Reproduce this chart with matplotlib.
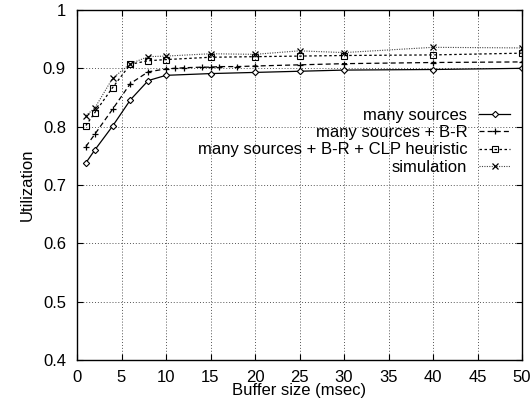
import matplotlib
matplotlib.use("Agg")
import matplotlib.pyplot as plt

plt.rcParams['font.family'] = ['Liberation Sans', 'DejaVu Sans']

# Buffer sizes (msec) and utilization for each model
buf_main = [1, 2, 4, 6, 8, 10, 15, 20, 25, 30, 40, 50]
util_many = [0.738, 0.760, 0.801, 0.846, 0.879, 0.888, 0.891, 0.893, 0.895, 0.897, 0.898, 0.900]

buf_br = [1, 2, 4, 6, 8, 10, 11, 12, 14, 15, 16, 18, 20, 25, 30, 40, 50]
util_br = [0.766, 0.787, 0.830, 0.874, 0.894, 0.899, 0.900, 0.901, 0.902, 0.902,
           0.903, 0.903, 0.904, 0.906, 0.908, 0.910, 0.911]

util_clp = [0.802, 0.824, 0.867, 0.907, 0.913, 0.915, 0.919, 0.920, 0.921, 0.922, 0.923, 0.926]
util_sim = [0.819, 0.832, 0.883, 0.908, 0.920, 0.921, 0.925, 0.924, 0.930, 0.927, 0.936, 0.935]

labels = ["many sources", "many sources + B-R",
          "many sources + B-R + CLP heuristic", "simulation"]

x_ticks = list(range(0, 51, 5))
y_ticks = [0.4, 0.5, 0.6, 0.7, 0.8, 0.9, 1.0]
y_tick_labels = ["0.4", "0.5", "0.6", "0.7", "0.8", "0.9", "1"]

FS = 12

fig = plt.figure(figsize=(5.31, 4.08), dpi=100)
ax = fig.add_axes([77 / 531, 48 / 408, 445 / 531, 350 / 408])

ax.plot(buf_main, util_many, color='black', lw=0.9, ls='-',
        marker='D', ms=3.2, mfc='white', mec='black', mew=0.8, label=labels[0])
ax.plot(buf_br, util_br, color='black', lw=0.9, ls=(0, (4, 2.5)),
        marker='+', ms=5, mew=0.9, label=labels[1])
ax.plot(buf_main, util_clp, color='black', lw=0.9, ls=(0, (2, 2)),
        marker='s', ms=4.2, mfc='none', mec='black', mew=0.8, label=labels[2])
ax.plot(buf_main, util_sim, color='#444444', lw=0.8, ls=(0, (1, 1.2)),
        marker='x', ms=4, mew=0.9, mec='black', label=labels[3])

ax.set_xlim(0, 50)
ax.set_ylim(0.4, 1.0)
ax.set_xticks(x_ticks)
ax.set_yticks(y_ticks)
ax.set_yticklabels(y_tick_labels)
ax.tick_params(direction='in', length=4, width=0.8, top=True, right=True,
               labelsize=FS, colors='black')
ax.tick_params(axis='y', pad=8)
ax.tick_params(axis='x', pad=7)
ax.grid(True, color='#555555', ls=(0, (1, 2)), lw=0.7)
for s in ax.spines.values():
    s.set_linewidth(1.0)

ax.set_xlabel("Buffer size (msec)", fontsize=FS, labelpad=-1)
ax.set_ylabel("Utilization", fontsize=FS, labelpad=6)

ax.legend(loc='center right', bbox_to_anchor=(0.973, 0.625), frameon=False,
          markerfirst=False, fontsize=FS, handlelength=1.85, handletextpad=0.72,
          labelspacing=0.13, borderpad=0, borderaxespad=0)

fig.savefig("out.png", dpi=100)
